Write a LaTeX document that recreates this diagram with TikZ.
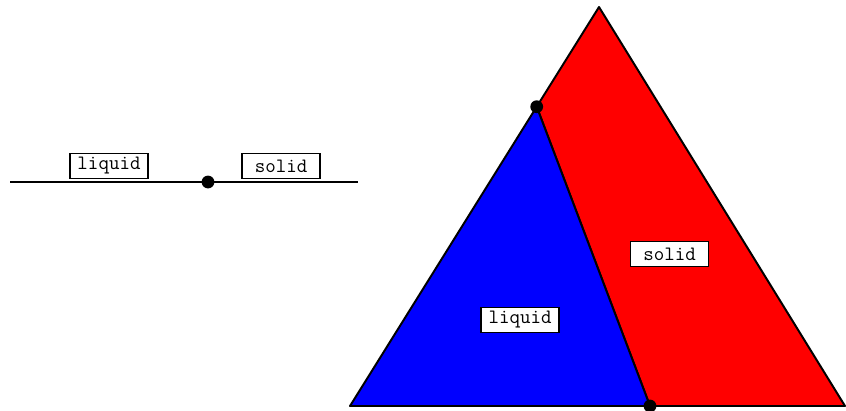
\documentclass[tikz,border=0pt]{standalone}
\usepackage{tikz}
\usetikzlibrary{positioning,calc}

\begin{document}
\begin{tikzpicture}[
    x=0.025cm, y=-0.025cm,
    phase/.style={draw, fill=white, line width=0.8pt, inner sep=0pt,
                  minimum width=1.95cm, minimum height=0.63cm,
                  font=\fontsize{14.5}{16}\ttfamily},
    edge/.style={line width=1.4pt, line join=round},
    pt/.style={fill=black, circle, inner sep=0pt, minimum size=0.32cm},
  ]
  \useasboundingbox (0,0) rectangle (846,410);
  % --- 1D: line with one interface point ---
  \coordinate (a0) at (10,182);
  \coordinate (a1) at (358,182);
  \draw[edge] (a0) -- (a1);
  \node[pt] (m) at (208,182) {};
  \node[phase] (liq1) at (109,166) {liquid};
  \node[phase] (sol1) at (281,166) {solid};
  % --- 2D: triangle cut in two ---
  \coordinate (top) at (599,7);
  \coordinate (bl) at (350,406);
  \coordinate (br) at (845,406);
  \coordinate (p) at (536.7,106.7);
  \coordinate (q) at (650,406);
  \filldraw[edge, fill=red] (top) -- (p) -- (q) -- (br) -- cycle;
  \filldraw[edge, fill=blue] (p) -- (bl) -- (q) -- cycle;
  \node[pt] (pp) at (p) {};
  \node[pt] (qq) at (q) {};
  \node[phase] (sol2) at (669.5,254) {solid};
  \node[phase] (liq2) at (520,320) {liquid};
\end{tikzpicture}
\end{document}
